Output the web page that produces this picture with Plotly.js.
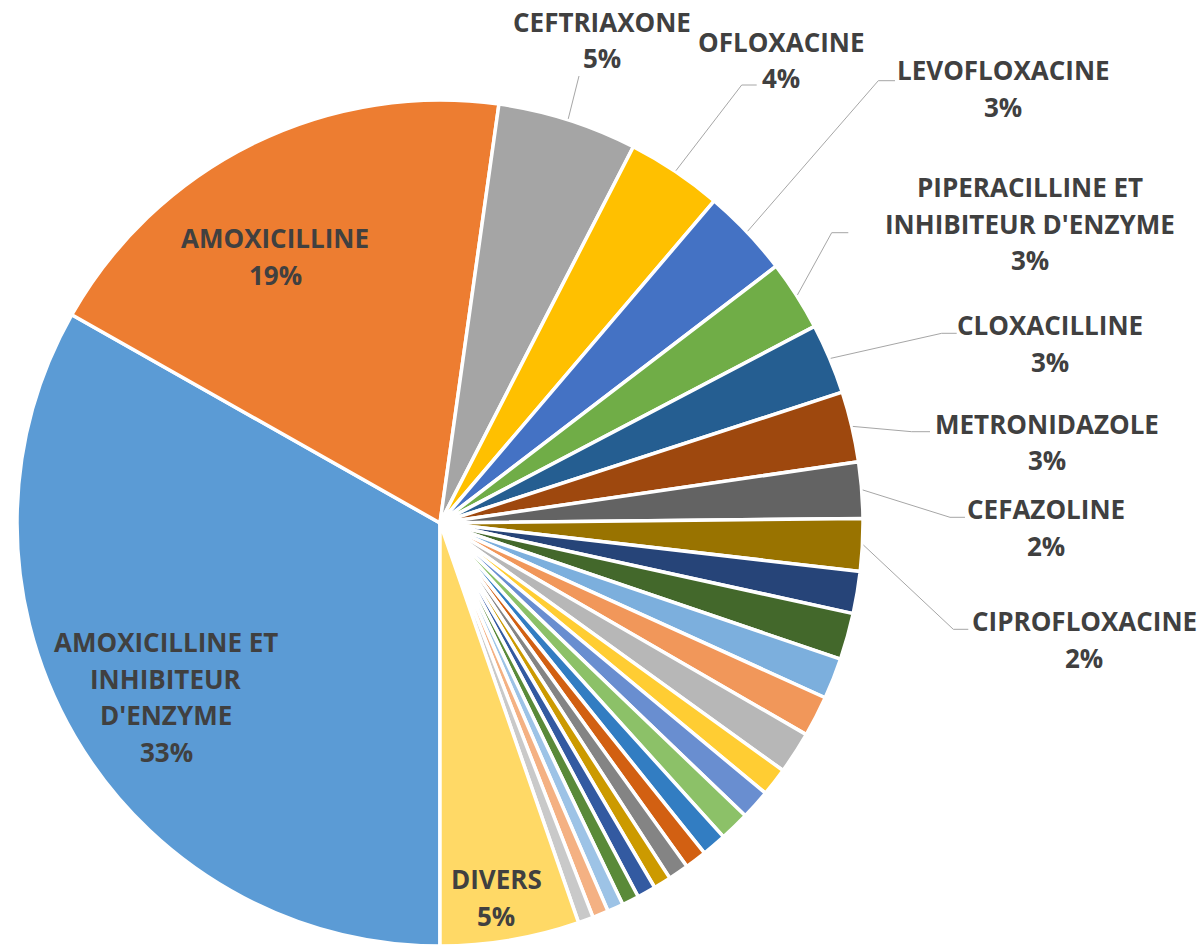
<!DOCTYPE html>
<html>
<head>
<meta charset="utf-8">
<script src="https://cdn.plot.ly/plotly-3.0.1.min.js"></script>
<style>html,body{margin:0;padding:0;background:#ffffff;}</style>
</head>
<body>
<div id="chart" style="width:1200px;height:948px;"></div>
<script>
// ---------- DATA ----------
const categories = [
  "AMOXICILLINE ET INHIBITEUR D'ENZYME", "AMOXICILLINE", "CEFTRIAXONE", "OFLOXACINE",
  "LEVOFLOXACINE", "PIPERACILLINE ET INHIBITEUR D'ENZYME", "CLOXACILLINE", "METRONIDAZOLE",
  "CEFAZOLINE", "CIPROFLOXACINE",
  "Autre 1", "Autre 2", "Autre 3", "Autre 4", "Autre 5", "Autre 6", "Autre 7", "Autre 8",
  "Autre 9", "Autre 10", "Autre 11", "Autre 12", "Autre 13", "Autre 14", "Autre 15",
  "Autre 16", "Autre 17",
  "DIVERS"
];
const values = [
  33.19, 19.03, 5.33, 3.67, 3.39, 2.69, 2.69, 2.69, 2.14, 2.00,
  1.61, 1.78, 1.56, 1.56, 1.61, 1.08, 1.14, 1.14, 0.94, 0.83,
  0.78, 0.67, 0.71, 0.65, 0.61, 0.61, 0.58,
  5.31
];
const colors = [
  "#5B9BD5", "#ED7D31", "#A5A5A5", "#FFC000", "#4472C4", "#70AD47", "#255E91", "#9E480E",
  "#636363", "#997300", "#264478", "#43682B", "#7CAFDD", "#F1975A", "#B7B7B7", "#FFCD33",
  "#698ED0", "#8CC168", "#327DC2", "#D26012", "#848484", "#CC9A00", "#335AA1", "#5A8A39",
  "#9DC3E6", "#F4B183", "#C9C9C9", "#FFD966"
];
// displayed label lines (wrapped names)
const labelLines = {
  0: ["AMOXICILLINE ET", "INHIBITEUR", "D'ENZYME"],
  1: ["AMOXICILLINE"],
  2: ["CEFTRIAXONE"],
  3: ["OFLOXACINE"],
  4: ["LEVOFLOXACINE"],
  5: ["PIPERACILLINE ET", "INHIBITEUR D'ENZYME"],
  6: ["CLOXACILLINE"],
  7: ["METRONIDAZOLE"],
  8: ["CEFAZOLINE"],
  9: ["CIPROFLOXACINE"],
  27: ["DIVERS"]
};

// ---------- LAYOUT / STYLE ----------
const W = 1200, H = 948;
const CX = 440, CY = 523, R = 423, ROT = 180;
const LINE_GAP = 36.5;
const FONT = {family: "Open Sans", size: 26, color: "#404040", weight: 700};
const LEADER = {color: "#A6A6A6", width: 1};

// label placement (pixels): centre x, centre y of first line, optional leader elbow/end
const labelLayout = [
  {i: 0,  x: 166,  y: 642},
  {i: 1,  x: 275,  y: 238},
  {i: 2,  x: 602,  y: 22,  end: [579, 76]},
  {i: 3,  x: 781,  y: 42,  elbow: [741.7, 85],   end: [756.7, 85]},
  {i: 4,  x: 1003, y: 70,  elbow: [878.3, 80.7], end: [895, 80.7]},
  {i: 5,  x: 1030, y: 187, elbow: [831.7, 232.7], end: [848.3, 232.7]},
  {i: 6,  x: 1050, y: 325, elbow: [941.7, 333.3], end: [956.7, 333.3]},
  {i: 7,  x: 1047, y: 424, elbow: [911.7, 431.7], end: [930, 431.7]},
  {i: 8,  x: 1046, y: 509, elbow: [950, 517.3],  end: [965, 517.3]},
  {i: 9,  x: 1084, y: 621, elbow: [953.3, 629.3], end: [968.3, 629.3]},
  {i: 27, x: 496,  y: 879}
];

// ---------- BUILD ----------
const total = values.reduce((a, b) => a + b, 0);
const px = x => x / W;
const py = y => 1 - y / H;

function midAngle(i) {
  let s = 0;
  for (let k = 0; k < i; k++) s += values[k];
  return (ROT + (s + values[i] / 2) / total * 360) * Math.PI / 180;
}
function edgePoint(i, rr) {
  const a = midAngle(i);
  return [CX + rr * Math.sin(a), CY - rr * Math.cos(a)];
}

const annotations = [];
const shapes = [];
labelLayout.forEach(L => {
  const pct = Math.round(values[L.i] / total * 100) + "%";
  const lines = labelLines[L.i].concat([pct]);
  lines.forEach((t, k) => {
    annotations.push({
      xref: "paper", yref: "paper",
      x: px(L.x), y: py(L.y + k * LINE_GAP),
      xanchor: "center", yanchor: "middle",
      text: t, showarrow: false, font: FONT
    });
  });
  if (L.end) {
    const a = edgePoint(L.i, R + 1);
    let path = "M " + px(a[0]) + "," + py(a[1]);
    if (L.elbow) path += " L " + px(L.elbow[0]) + "," + py(L.elbow[1]);
    path += " L " + px(L.end[0]) + "," + py(L.end[1]);
    shapes.push({type: "path", xref: "paper", yref: "paper", path: path, line: LEADER});
  }
});

const trace = {
  type: "pie",
  labels: categories,
  values: values,
  sort: false,
  direction: "clockwise",
  rotation: ROT,
  textinfo: "none",
  hoverinfo: "label+percent",
  marker: {colors: colors, line: {color: "#ffffff", width: 3.5}},
  domain: {x: [(CX - R) / W, (CX + R) / W], y: [1 - (CY + R) / H, 1 - (CY - R) / H]},
  showlegend: false
};

const layout = {
  width: W, height: H,
  margin: {l: 0, r: 0, t: 0, b: 0},
  paper_bgcolor: "#ffffff",
  showlegend: false,
  annotations: annotations,
  shapes: shapes
};

Plotly.newPlot("chart", [trace], layout, {displayModeBar: false, responsive: false});
</script>
</body>
</html>
